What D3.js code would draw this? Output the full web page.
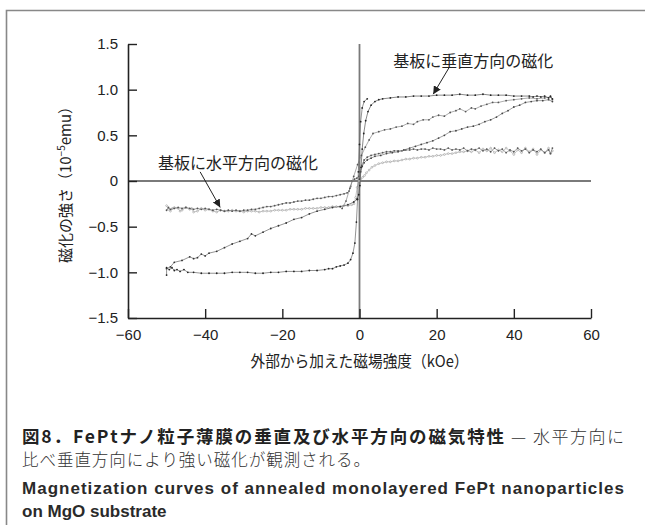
<!DOCTYPE html>
<html>
<head>
<meta charset="utf-8">
<script src="https://cdn.jsdelivr.net/npm/d3@7"></script>
<style>
  html, body { margin: 0; padding: 0; background: #fff; }
  svg { display: block; }
</style>
</head>
<body>
<svg id="chart" width="645" height="525"></svg>
<script>
// axis ticks
const xTicks = [-60, -40, -20, 0, 20, 40, 60];
const yTicks = [-1.5, -1.0, -0.5, 0, 0.5, 1.0, 1.5];

// perpendicular loop (field kOe, magnetization 1e-5 emu)
const perpTop = [[50,0.90],[49.5,0.93],[49,0.91],[48,0.93],[47,0.92],[46,0.93],[45,0.92],[44,0.93],[42,0.93],[40,0.93],[38,0.94],[36,0.94],[34,0.94],[32,0.95],[30,0.94],[28,0.94],[26,0.95],[24,0.94],[22,0.94],[20,0.94],[18,0.93],[16,0.93],[14,0.93],[12,0.92],[10,0.92],[8,0.91],[6,0.90],[5,0.89],[4,0.87],[3,0.83],[2.2,0.76],[1.6,0.66],[1.1,0.52],[0.7,0.35],[0.4,0.15],[0.1,-0.05],[-0.2,-0.15],[-0.6,-0.2]];
const perpSlantNeg = [[-0.6,-0.2],[-1.5,-0.23],[-3,-0.26],[-5,-0.28],[-7,-0.29],[-9,-0.31],[-11,-0.33],[-13,-0.36],[-15,-0.40],[-17,-0.42],[-19,-0.46],[-21,-0.49],[-23,-0.52],[-25,-0.56],[-27,-0.60],[-28,-0.58],[-29,-0.63],[-31,-0.66],[-33,-0.69],[-35,-0.73],[-37,-0.77],[-39,-0.79],[-40,-0.82],[-41,-0.80],[-42,-0.84],[-43,-0.85],[-44,-0.83],[-46,-0.87],[-48,-0.89],[-49,-0.94],[-50,-0.96]];
const perpBottom = [[-50,-1.03],[-50,-0.95],[-49.3,-0.97],[-48.6,-0.95],[-48,-0.98],[-47.3,-0.97],[-46.5,-0.99],[-45.5,-0.97],[-44.5,-1.0],[-43,-1.0],[-41,-1.01],[-39,-1.01],[-37,-1.01],[-35,-1.01],[-33,-1.0],[-31,-1.0],[-29,-1.0],[-27,-1.01],[-25,-1.01],[-23,-1.0],[-21,-1.0],[-19,-0.99],[-17,-0.99],[-15,-0.99],[-13,-0.98],[-11,-0.98],[-9,-0.97],[-8,-0.96],[-7,-0.96],[-6,-0.94],[-5,-0.93],[-4,-0.92],[-3,-0.90],[-2.3,-0.86],[-1.7,-0.79],[-1.2,-0.68],[-0.8,-0.45],[-0.5,-0.2],[-0.3,0.1],[0,0.4],[0.3,0.65],[0.7,0.8],[1.2,0.87],[2,0.9]];
const perpSlantPos = [[-4.5,-0.3],[-3.5,-0.22],[-2.5,-0.08],[-1.5,0.05],[-0.5,0.18],[0.5,0.28],[1.5,0.37],[2.5,0.45],[3.5,0.52],[5,0.54],[6.5,0.56],[8,0.57],[9.5,0.59],[11,0.60],[12.5,0.63],[14,0.62],[15,0.65],[16.5,0.67],[18,0.67],[19,0.70],[20.5,0.72],[22,0.71],[23.5,0.75],[25,0.77],[26,0.79],[27.5,0.76],[29,0.80],[30,0.79],[31.5,0.82],[33,0.84],[34.5,0.86],[36,0.86],[38,0.88],[40,0.89],[42,0.90],[44,0.91],[46,0.90],[48,0.91],[49.5,0.92],[50,0.89]];
const perpInit = [[0,0.02],[0.3,0.10],[0.7,0.16],[1.2,0.20],[2,0.23],[3,0.25],[4,0.27],[5.5,0.28],[7,0.30],[8.5,0.31],[10,0.32],[11.5,0.34],[13,0.36],[14.5,0.38],[16,0.40],[17.5,0.42],[19,0.44],[20.5,0.47],[22,0.50],[23.5,0.54],[25,0.55],[26.5,0.57],[28,0.59],[29.5,0.60],[31,0.62],[32.5,0.65],[34,0.67],[35.5,0.70],[37,0.74],[38.5,0.77],[40,0.81],[41.5,0.83],[43,0.86],[44.5,0.87],[46,0.88],[47.5,0.88],[49,0.89],[50,0.87]];

// in-plane loop
const inplaneDown = [[50,0.36],[49.5,0.30],[49,0.34],[48,0.31],[47,0.35],[46,0.32],[45,0.34],[44,0.31],[43,0.35],[42,0.33],[41,0.36],[40,0.32],[39,0.34],[38,0.31],[37,0.35],[36,0.33],[35,0.36],[34,0.32],[33,0.35],[32,0.33],[31,0.36],[30,0.34],[29,0.35],[28,0.33],[27,0.36],[26,0.34],[25,0.35],[24,0.34],[23,0.36],[22,0.34],[21,0.35],[20,0.35],[19,0.36],[18,0.34],[17,0.35],[16,0.35],[15,0.34],[14,0.35],[13,0.34],[12,0.34],[11,0.33],[10,0.33],[9,0.33],[8,0.32],[7,0.32],[6,0.31],[5,0.30],[4,0.29],[3,0.28],[2,0.26],[1.2,0.23],[0.6,0.17],[0.2,0.10],[-0.2,0.05],[-0.7,0.03],[-1.3,0.02],[-1.9,0.0],[-2.3,-0.06],[-2.7,-0.11],[-3.2,-0.13],[-4,-0.14],[-5,-0.15],[-6,-0.16],[-7,-0.17],[-8,-0.17],[-9,-0.18],[-10,-0.19],[-11,-0.19],[-12,-0.20],[-13,-0.21],[-14,-0.21],[-15,-0.22],[-16,-0.22],[-17,-0.23],[-18,-0.24],[-19,-0.24],[-20,-0.25],[-21,-0.26],[-22,-0.27],[-23,-0.28],[-24,-0.28],[-25,-0.29],[-26,-0.30],[-27,-0.31],[-28,-0.31],[-29,-0.32],[-30,-0.32],[-31,-0.33],[-32,-0.32],[-33,-0.33],[-34,-0.32],[-35,-0.33],[-36,-0.32],[-37,-0.31],[-38,-0.32],[-39,-0.31],[-40,-0.30],[-41,-0.31],[-42,-0.30],[-43,-0.31],[-44,-0.30],[-45,-0.29],[-46,-0.30],[-47,-0.29],[-48,-0.30],[-49,-0.31],[-49.5,-0.29],[-50,-0.32]];
const inplaneUp = [[-50,-0.27],[-49.5,-0.31],[-49,-0.33],[-48.5,-0.30],[-48,-0.29],[-47,-0.30],[-46.5,-0.33],[-46,-0.32],[-45,-0.29],[-44,-0.31],[-43.5,-0.30],[-43,-0.34],[-42,-0.33],[-41,-0.30],[-40,-0.32],[-39,-0.31],[-38,-0.33],[-37,-0.34],[-36,-0.32],[-35,-0.33],[-34,-0.33],[-33,-0.32],[-32,-0.33],[-31,-0.33],[-30,-0.34],[-29,-0.33],[-28,-0.33],[-27,-0.33],[-26,-0.34],[-25,-0.33],[-24,-0.33],[-23,-0.33],[-22,-0.32],[-21,-0.32],[-20,-0.32],[-19,-0.32],[-18,-0.31],[-17,-0.31],[-16,-0.31],[-15,-0.31],[-14,-0.30],[-13,-0.30],[-12,-0.30],[-11,-0.30],[-10,-0.29],[-9,-0.29],[-8,-0.29],[-7,-0.28],[-6,-0.28],[-5,-0.28],[-4,-0.27],[-3,-0.27],[-2,-0.26],[-1.4,-0.25],[-1,-0.18],[-0.6,-0.07],[-0.2,0.0],[0.3,0.02],[0.8,0.04],[1.3,0.06],[1.8,0.09],[2.5,0.12],[3.2,0.15],[4,0.17],[5,0.19],[6,0.20],[7,0.21],[8,0.21],[9,0.22],[10,0.22],[11,0.23],[12,0.24],[13,0.24],[14,0.25],[15,0.25],[16,0.26],[17,0.26],[18,0.27],[19,0.27],[20,0.28],[21,0.28],[22,0.29],[23,0.30],[24,0.30],[25,0.31],[26,0.32],[27,0.32],[28,0.33],[29,0.32],[30,0.34],[31,0.31],[32,0.35],[33,0.33],[34,0.36],[35,0.31],[36,0.34],[37,0.32],[38,0.36],[39,0.33],[40,0.29],[41,0.34],[42,0.31],[43,0.36],[44,0.32],[45,0.35],[46,0.29],[47,0.34],[48,0.31],[49,0.36],[49.5,0.30],[50,0.33]];

// labels
const xTitle = '外部から加えた磁場強度（kOe）';
const perpLabel = '基板に垂直方向の磁化';
const planeLabel = '基板に水平方向の磁化';
const captionBold = '図8．FePtナノ粒子薄膜の垂直及び水平方向の磁気特性';
const captionTail = '— 水平方向に';
const captionLine2 = '比べ垂直方向により強い磁化が観測される。';
const captionEn1 = 'Magnetization curves of annealed monolayered FePt nanoparticles';
const captionEn2 = 'on MgO substrate';

const svg = d3.select('#chart');
const jp = '"Noto Sans CJK JP", sans-serif';
const num = '"Liberation Sans", Arial, sans-serif';

// outer frame (top and left only)
svg.append('path')
  .attr('d', 'M6.5,525 V10.5 H645')
  .attr('fill', 'none')
  .attr('stroke', '#888')
  .attr('stroke-width', 1.6);

// scales
const x = d3.scaleLinear().domain([-60, 60]).range([128, 591]);
const y = d3.scaleLinear().domain([-1.5, 1.5]).range([318, 44]);

// zero lines
svg.append('line')
  .attr('x1', x(-60)).attr('x2', x(60))
  .attr('y1', y(0)).attr('y2', y(0))
  .attr('stroke', '#7a7a7a').attr('stroke-width', 1.8);
svg.append('line')
  .attr('x1', x(0)).attr('x2', x(0))
  .attr('y1', y(1.5)).attr('y2', y(-1.5))
  .attr('stroke', '#7a7a7a').attr('stroke-width', 1.8);

// curves
const series = [
  { data: inplaneUp, stroke: '#a8a8a8', dot: '#9a9a9a', hollow: true },
  { data: inplaneDown, stroke: '#777', dot: '#555' },
  { data: perpInit, stroke: '#777', dot: '#444' },
  { data: perpSlantPos, stroke: '#888', dot: '#555' },
  { data: perpSlantNeg, stroke: '#666', dot: '#333' },
  { data: perpBottom, stroke: '#666', dot: '#222' },
  { data: perpTop, stroke: '#555', dot: '#222' }
];

const line = d3.line().x(d => x(d[0])).y(d => y(d[1]));

series.forEach(s => {
  svg.append('path')
    .attr('d', line(s.data))
    .attr('fill', 'none')
    .attr('stroke', s.stroke)
    .attr('stroke-width', 0.7);
  svg.append('g').selectAll('circle')
    .data(s.data)
    .enter()
    .append('circle')
    .attr('cx', d => x(d[0]))
    .attr('cy', d => y(d[1]))
    .attr('r', 0.9)
    .attr('fill', s.hollow ? '#fff' : s.dot)
    .attr('stroke', s.hollow ? s.dot : 'none')
    .attr('stroke-width', 0.6);
});

// axes, ticks pointing inward
const yAxis = d3.axisLeft(y)
  .tickValues(yTicks)
  .tickSizeInner(-9)
  .tickSizeOuter(0)
  .tickPadding(10)
  .tickFormat(d => d === 0 ? '0' : d3.format('.1f')(d));
const xAxis = d3.axisBottom(x)
  .tickValues(xTicks)
  .tickSizeInner(-9)
  .tickSizeOuter(0)
  .tickPadding(11)
  .tickFormat(d3.format('d'));

[svg.append('g').attr('transform', `translate(${x(-60)},0)`).call(yAxis),
 svg.append('g').attr('transform', `translate(0,${y(-1.5)})`).call(xAxis)]
  .forEach(g => {
    g.select('.domain').attr('stroke', '#222').attr('stroke-width', 1.6);
    g.selectAll('.tick line').attr('stroke', '#222').attr('stroke-width', 1.4);
    g.selectAll('.tick text')
      .attr('fill', '#222')
      .style('font-family', num)
      .style('font-size', '15px');
  });

// axis titles
svg.append('text')
  .attr('transform', `translate(70.5,${(y(1.5) + y(-1.5)) / 2}) rotate(-90)`)
  .attr('text-anchor', 'middle')
  .style('font-family', jp)
  .style('font-size', '15px')
  .attr('fill', '#222')
  .call(t => {
    t.append('tspan').text('磁化の強さ（10');
    t.append('tspan').attr('dy', -6).style('font-size', '10px').text('−5');
    t.append('tspan').attr('dy', 6).text('emu）');
  });

svg.append('text')
  .attr('x', x(0))
  .attr('y', 367)
  .attr('text-anchor', 'middle')
  .attr('textLength', 218).attr('lengthAdjust', 'spacingAndGlyphs')
  .style('font-family', jp)
  .style('font-size', '16px')
  .attr('fill', '#222')
  .text(xTitle);

// annotations with arrows
svg.append('defs').append('marker')
  .attr('id', 'arrow')
  .attr('viewBox', '0 0 10 10')
  .attr('refX', 10).attr('refY', 5)
  .attr('markerWidth', 8).attr('markerHeight', 8)
  .attr('markerUnits', 'userSpaceOnUse')
  .attr('orient', 'auto')
  .append('path')
  .attr('d', 'M0,0 L10,5 L0,10 Z')
  .attr('fill', '#222');

const notes = [
  { text: perpLabel, tx: 29.5, ty: 1.31, from: [23.2, 1.24], to: [19.1, 0.95] },
  { text: planeLabel, tx: -31.5, ty: 0.20, from: [-41.3, 0.10], to: [-36.1, -0.29] }
];
notes.forEach(n => {
  svg.append('text')
    .attr('x', x(n.tx))
    .attr('y', y(n.ty) + 6)
    .attr('text-anchor', 'middle')
    .style('font-family', jp)
    .style('font-size', '16px')
    .attr('fill', '#222')
    .text(n.text);
  svg.append('line')
    .attr('x1', x(n.from[0])).attr('y1', y(n.from[1]))
    .attr('x2', x(n.to[0])).attr('y2', y(n.to[1]))
    .attr('stroke', '#222')
    .attr('stroke-width', 1)
    .attr('marker-end', 'url(#arrow)');
});

// caption
svg.append('text')
  .attr('x', 22).attr('y', 443)
  .attr('textLength', 482).attr('lengthAdjust', 'spacing')
  .style('font-family', jp)
  .style('font-size', '17.5px')
  .style('font-weight', 'bold')
  .attr('fill', '#222')
  .text(captionBold);
svg.append('text')
  .attr('x', 511).attr('y', 443)
  .attr('textLength', 113).attr('lengthAdjust', 'spacing')
  .style('font-family', jp)
  .style('font-size', '17px')
  .style('font-weight', 300)
  .attr('fill', '#333')
  .text(captionTail);
svg.append('text')
  .attr('x', 22).attr('y', 466)
  .attr('textLength', 348).attr('lengthAdjust', 'spacing')
  .style('font-family', jp)
  .style('font-size', '16.5px')
  .style('font-weight', 300)
  .attr('fill', '#333')
  .text(captionLine2);
svg.append('text')
  .attr('x', 22).attr('y', 494)
  .attr('textLength', 602).attr('lengthAdjust', 'spacing')
  .style('font-family', num)
  .style('font-size', '17px')
  .style('font-weight', 'bold')
  .attr('fill', '#2a2a2a')
  .text(captionEn1);
svg.append('text')
  .attr('x', 22).attr('y', 517)
  .style('font-family', num)
  .style('font-size', '17px')
  .style('font-weight', 'bold')
  .attr('fill', '#2a2a2a')
  .text(captionEn2);
</script>
</body>
</html>
